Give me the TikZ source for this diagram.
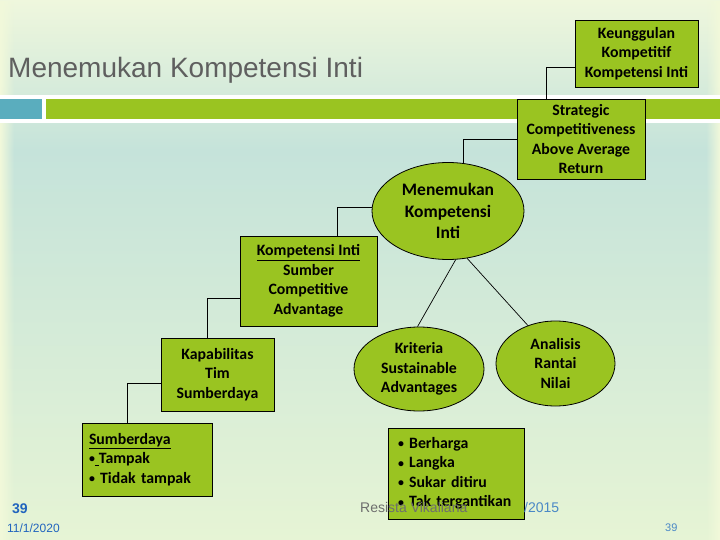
\documentclass[tikz,border=0pt]{standalone}
\usepackage{fontspec}
\setmainfont{Liberation Sans}
\newfontfamily\boxfont{Carlito}
\usetikzlibrary{shapes.geometric, fadings}

\definecolor{boxgreen}{HTML}{9AC421}
\definecolor{barteal}{HTML}{5AADBE}
\definecolor{bgtop}{HTML}{EFF7DD}
\definecolor{bgmid}{HTML}{C5E3DA}
\definecolor{bgbot}{HTML}{E6F4D5}
\definecolor{bgedge}{HTML}{F2F9DA}
\definecolor{titlegray}{HTML}{5F5F5F}
\definecolor{footgray}{HTML}{6E6E6E}
\definecolor{numblue}{HTML}{2164BE}
\definecolor{dateblue}{HTML}{4A88C6}

\newcommand{\dotmark}{\raisebox{0.12ex}{\scalebox{0.75}{•}}}

\begin{document}
\begin{tikzpicture}[x=1pt, y=-1pt,
    box/.style={draw, fill=boxgreen, line width=0.8pt, inner sep=0pt, align=center, font={\boxfont\bfseries\fontsize{15.8}{19.5}\selectfont}},
    oval/.style={box, ellipse},
    lst/.style={box, align=left},
    link/.style={line width=0.7pt}
]
    % background and title bar
    \fill[top color=bgtop, bottom color=bgmid] (0,0) rectangle (720,150);
    \fill[top color=bgmid, bottom color=bgbot] (0,150) rectangle (720,540);
    \fill[bgedge, path fading=east] (0,0) rectangle (14,540);
    \fill[bgedge, path fading=west] (706,0) rectangle (720,540);
    \fill[white] (0,95) rectangle (720,123);
    \fill[barteal] (0,99) rectangle (42,119);
    \fill[boxgreen] (46,99) rectangle (720,119);
    \node[anchor=base west, inner sep=0pt, text=titlegray, font={\fontsize{28}{34}\selectfont}] (title) at (8,78) {Menemukan Kompetensi Inti};

    % staircase
    \node[box, minimum width=123pt, minimum height=67pt] (kku) at (636.5,53.5) {Keunggulan\\Kompetitif\\Kompetensi Inti};
    \node[box, minimum width=128pt, minimum height=80pt] (scr) at (581,139) {Strategic\\Competitiveness\\Above Average\\Return};
    \node[oval, minimum width=152pt, minimum height=97pt, font={\boxfont\bfseries\fontsize{17.5}{21.5}\selectfont}] (men) at (448,211) {Menemukan\\Kompetensi\\Inti};
    \node[box, minimum width=137pt, minimum height=90pt] (kin) at (308.5,281) {\underline{Kompetensi Inti}\\Sumber\\Competitive\\Advantage};
    \node[box, minimum width=113pt, minimum height=73pt] (kap) at (217.5,374.5) {Kapabilitas\\Tim\\Sumberdaya};
    \node[lst, text width=116pt, inner xsep=7pt, minimum height=73pt] (sdy) at (147,459.5) {\underline{Sumberdaya}\\\dotmark\underline{\hspace{4pt}}Tampak\\\dotmark\ Tidak tampak};

    % criteria
    \node[oval, minimum width=130pt, minimum height=84pt] (kri) at (419,369) {Kriteria\\Sustainable\\Advantages};
    \node[oval, minimum width=119pt, minimum height=85pt] (ana) at (555.5,363.5) {Analisis\\Rantai\\Nilai};

    \draw[link] ([yshift=-13.5pt]kku.west) -| ([xshift=-35pt]scr.north);
    \draw[link] (scr.west) -| (men.72);
    \draw[link] (men.177) -| ([xshift=28.5pt]kin.north);
    \draw[link] ([yshift=-17pt]kin.west) -| ([xshift=-10.5pt]kap.north);
    \draw[link] ([yshift=-8.5pt]kap.west) -| ([xshift=-20pt]sdy.north);
    \draw[link] (men.-81) -- (kri.92);
    \draw[link] (men.-68) -- (ana.126);

    % footer
    \node[lst, text width=116pt, inner xsep=10pt, minimum height=91pt] (crt) at (456,473.5) {\dotmark\ Berharga\\\dotmark\ Langka\\\dotmark\ Sukar ditiru\\\dotmark\ Tak tergantikan};
    \node[anchor=base west, inner sep=0pt, text=footgray, font={\fontsize{14}{16}\selectfont}] (author) at (360,512) {Resista Vikaliana};
    \node[anchor=base west, inner sep=0pt, text=dateblue, font={\fontsize{14}{16}\selectfont}] (year) at (524,512) {/2015};
    \node[anchor=base west, inner sep=0pt, text=numblue, font={\bfseries\fontsize{14}{16}\selectfont}] (num) at (12,513) {39};
    \node[anchor=base west, inner sep=0pt, text=numblue, font={\fontsize{12}{14}\selectfont}] (date) at (7,532) {11/1/2020};
    \node[anchor=base west, inner sep=0pt, text=dateblue, font={\fontsize{11}{13}\selectfont}] (page) at (665,531) {39};
\end{tikzpicture}
\end{document}
